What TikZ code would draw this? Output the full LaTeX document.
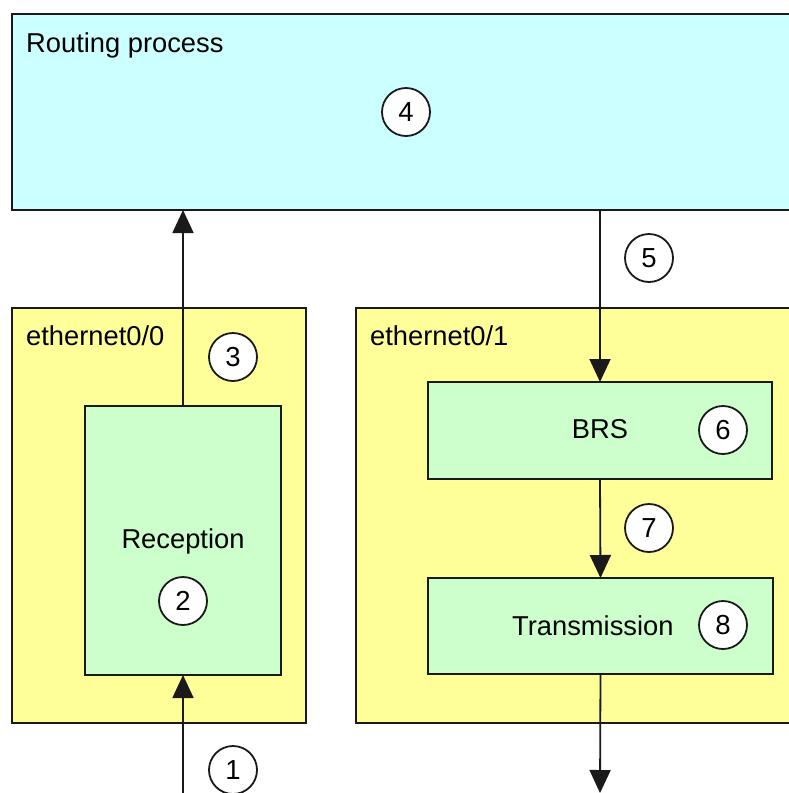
\documentclass[tikz,border=0pt]{standalone}
\usepackage{fontspec}
\setmainfont{Liberation Sans}
\usetikzlibrary{arrows.meta}
\definecolor{routefill}{HTML}{CCFFFF}
\definecolor{portfill}{HTML}{FFFF99}
\definecolor{stagefill}{HTML}{CCFFCC}
\definecolor{edge}{HTML}{1A1A1A}
\tikzset{
  box/.style={draw=edge, line width=1.8pt, anchor=north west, inner sep=0pt, outer sep=0pt},
  routebox/.style={box, fill=routefill},
  portbox/.style={box, fill=portfill},
  stagebox/.style={box, fill=stagefill},
  label/.style={font=\fontsize{27.3}{32}\selectfont, inner sep=0pt},
  num/.style={circle, draw=edge, line width=1.8pt, fill=white, minimum size=48pt, inner sep=0pt,
              font=\fontsize{27.5}{32}\selectfont},
  flow/.style={draw=edge, line width=1.8pt, -{Triangle[length=23pt,width=21pt]}}
}
\begin{document}
\begin{tikzpicture}[x=1pt, y=-1pt]
\clip (0,0) rectangle (789,793);
\fill[white] (0,0) rectangle (789,793);

% routing process
\node[routebox, minimum width=800pt, minimum height=196pt] (route) at (12,14) {};
\node[label, anchor=base west] (routetxt) at (26,52) {Routing process};
\node[num] (n4) at (406,112) {4};

% ethernet0/0 with its reception stage
\node[portbox, minimum width=294pt, minimum height=415pt] (eth0) at (12,308) {};
\node[label, anchor=base west] (eth0txt) at (26,345) {ethernet0/0};
\node[stagebox, minimum width=196pt, minimum height=269pt] (recv) at (85,406) {};
\node[label, anchor=base] (recvtxt) at (183,548) {Reception};
\node[num] (n2) at (183,601) {2};

% ethernet0/1 with BRS and transmission stages
\node[portbox, minimum width=450pt, minimum height=415pt] (eth1) at (356,308) {};
\node[label, anchor=base west] (eth1txt) at (370,345) {ethernet0/1};
\node[stagebox, minimum width=344pt, minimum height=97pt] (brs) at (428,382) {};
\node[label, anchor=base] (brstxt) at (600,438) {BRS};
\node[num] (n6) at (723,430) {6};
\node[stagebox, minimum width=345pt, minimum height=96pt] (tx) at (428,578) {};
\node[label, anchor=base west] (txtxt) at (512,635) {Transmission};
\node[num] (n8) at (723,625) {8};

% packet path
\coordinate (inlet) at (183,793);
\coordinate (outlet) at (600,793);
\draw[flow] (inlet) -- (recv.south);
\draw[flow] (recv.north) -- (recv.north |- route.south);
\draw[flow] (route.south -| brs.north) -- (brs.north);
\draw[flow] (brs.south) -- (tx.north);
\draw[flow] (tx.south) -- (outlet);

% step markers along the path
\node[num] (n1) at (233,770) {1};
\node[num] (n3) at (233,357) {3};
\node[num] (n5) at (649,258) {5};
\node[num] (n7) at (649,528) {7};
\end{tikzpicture}
\end{document}
